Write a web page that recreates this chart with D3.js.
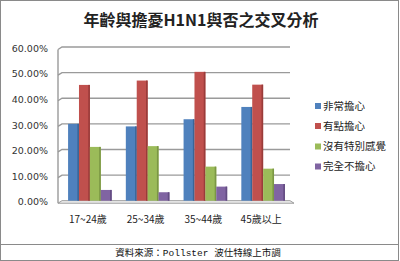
<!DOCTYPE html>
<html><head><meta charset="utf-8">
<script src="https://cdn.jsdelivr.net/npm/d3@7"></script>
<style>
html,body{margin:0;padding:0;background:#fff;}
svg{display:block;}
</style></head>
<body>
<svg id="c" width="400" height="261"></svg>
<script>
const title = "年齡與擔憂H1N1與否之交叉分析";
const source = "資料來源：Pollster 波仕特線上市調";
const categories = ["17~24歲", "25~34歲", "35~44歲", "45歲以上"];
const seriesNames = ["非常擔心", "有點擔心", "沒有特別感覺", "完全不擔心"];
const veryWorried = [30.0, 29.0, 31.8, 36.6];
const somewhatWorried = [45.2, 46.9, 50.3, 45.3];
const noFeeling = [21.0, 21.3, 13.3, 12.5];
const notWorried = [4.2, 3.3, 5.5, 6.5];
const yTicks = [0, 10, 20, 30, 40, 50, 60];
const colors = ["#4F81BD", "#C0504D", "#9BBB59", "#8064A2"];
const sides = ["#3A6597", "#9A3C3A", "#7B9744", "#634C82"];

const series = [veryWorried, somewhatWorried, noFeeling, notWorried];
const svg = d3.select("#c");
const cjk = "'Noto Sans CJK TC','Noto Sans CJK SC',sans-serif";

// frame
svg.append("rect").attr("x",0.5).attr("y",0.5).attr("width",398).attr("height",260)
  .attr("fill","#fff").attr("stroke","#8a8a8a");
svg.append("line").attr("x1",0).attr("x2",399).attr("y1",244.5).attr("y2",244.5).attr("stroke","#8a8a8a");

svg.append("text").attr("x",201).attr("y",26).attr("text-anchor","middle")
  .attr("font-family",cjk).attr("font-weight","bold").attr("font-size",16).attr("fill","#222").text(title);

const x = d3.scaleBand().domain(categories).range([61, 292]).paddingInner(0.245).paddingOuter(0.1225);
const xs = d3.scaleBand().domain(d3.range(seriesNames.length)).range([0, x.bandwidth()]);
const y = d3.scaleLinear().domain([0, 60]).range([200.7, 47]);

const gx0 = 62, gx1 = 290, dx = 4, dy = 2.5;
// grid lines with 3D wall offset
const grid = svg.append("g");
yTicks.forEach(t => {
  if (t === 0) return;
  grid.append("path").attr("d", `M${gx0-dx},${y(t)+dy}L${gx0},${y(t)}L${gx1},${y(t)}`)
    .attr("fill","none").attr("stroke","#9a9a9a").attr("stroke-width",1.4);
});
// wall edge
svg.append("line").attr("x1",gx0-dx).attr("x2",gx0-dx).attr("y1",y(60)+dy).attr("y2",y(0)+dy)
  .attr("stroke","#9a9a9a").attr("stroke-width",1.4);
// floor
svg.append("path").attr("d", `M${gx0-dx},${y(0)+dy}L${gx0},${y(0)}L${gx1},${y(0)}L${gx1+dx},${y(0)+dy}Z`)
  .attr("fill","#f4f4f4").attr("stroke","#9a9a9a").attr("stroke-width",1);

// y axis labels
const yAxis = d3.axisLeft(y).tickValues(yTicks).tickSize(0).tickFormat(d => d.toFixed(2) + "%");
const ya = svg.append("g").attr("transform", `translate(51,${dy/2})`).call(yAxis);
ya.select(".domain").remove();
ya.selectAll("text").attr("font-family","'DejaVu Sans',sans-serif").attr("font-size",9.5).attr("fill","#333").attr("dx",0);

// bars
categories.forEach((c, i) => {
  series.forEach((s, k) => {
    const bx = x(c) + xs(k), bw = xs.bandwidth();
    svg.append("rect").attr("x",bx).attr("y",y(s[i])).attr("width",bw).attr("height",y(0)-y(s[i]))
      .attr("fill",colors[k]);
    svg.append("rect").attr("x",bx+bw-1.6).attr("y",y(s[i])).attr("width",1.6).attr("height",y(0)-y(s[i]))
      .attr("fill",sides[k]);
  });
});

// x labels
const xAxis = d3.axisBottom(x).tickSize(0);
const xa = svg.append("g").attr("transform","translate(-2,213)").call(xAxis);
xa.select(".domain").remove();
xa.selectAll("text").attr("font-family",cjk).attr("font-size",10).attr("fill","#222");

// legend
const ly = [106, 126, 146.5, 166.5];
seriesNames.forEach((n, k) => {
  svg.append("rect").attr("x",315).attr("y",ly[k]-3).attr("width",6).attr("height",6).attr("fill",colors[k]);
  svg.append("text").attr("x",323).attr("y",ly[k]).attr("dy","0.35em")
    .attr("font-family",cjk).attr("font-size",10.5).attr("fill","#222").text(n);
});

// source
svg.append("text").attr("x",198).attr("y",253).attr("dy","0.35em").attr("text-anchor","middle")
  .attr("font-family","'Liberation Mono','Noto Sans CJK TC',monospace").attr("font-size",9.5).attr("fill","#111")
  .text(source);
</script>
</body></html>
